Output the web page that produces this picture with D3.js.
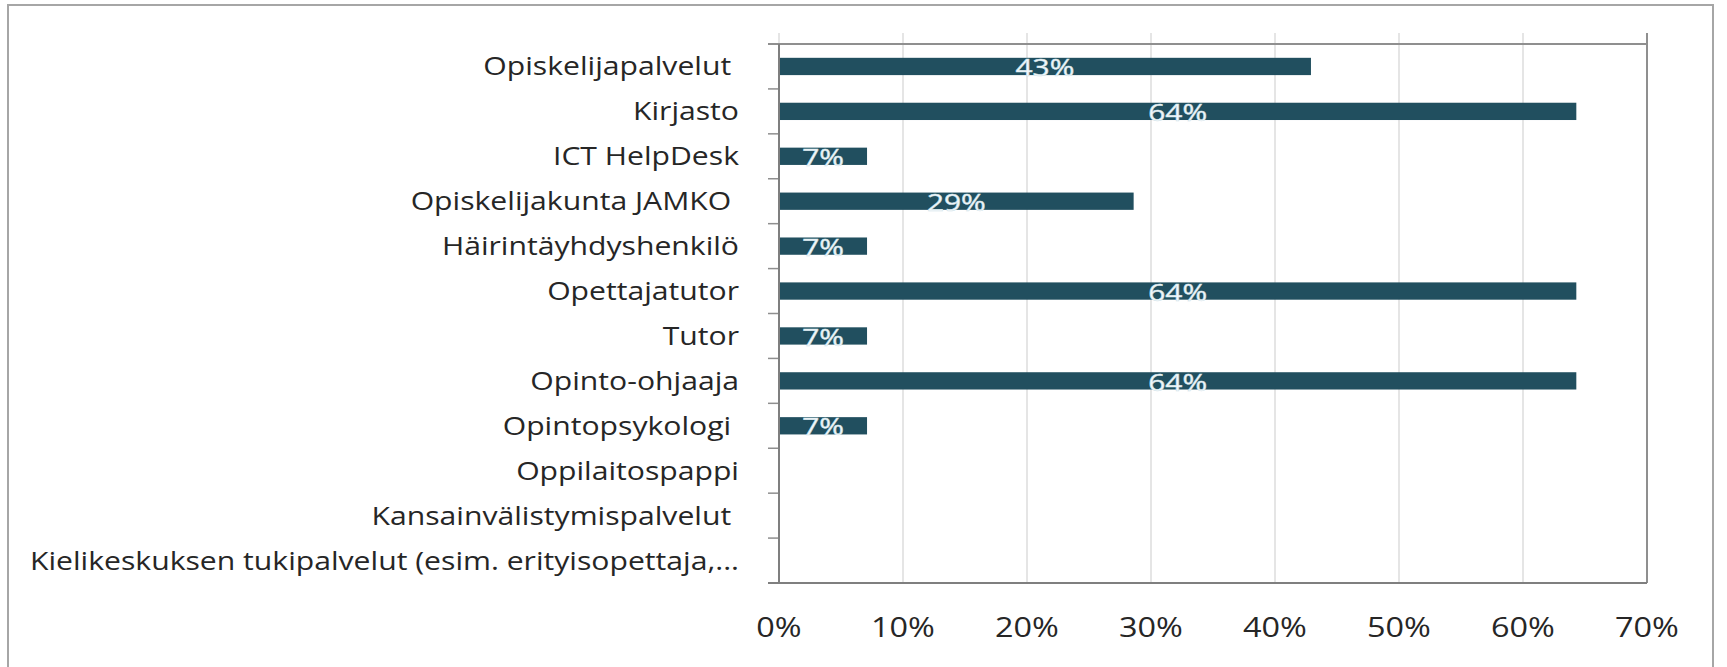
<!doctype html>
<html>
<head>
<meta charset="utf-8">
<script src="https://d3js.org/d3.v7.min.js"></script>
<style>
body { margin: 0; background: #fff; }
svg text { font-family: "Open Sans", sans-serif; white-space: pre; }
</style>
</head>
<body>
<svg width="1727" height="667" class="chart"></svg>
<script>
// data (share of respondents, %)
var categories = [
  "Opiskelijapalvelut ",
  "Kirjasto",
  "ICT HelpDesk",
  "Opiskelijakunta JAMKO ",
  "Häirintäyhdyshenkilö",
  "Opettajatutor",
  "Tutor",
  "Opinto-ohjaaja",
  "Opintopsykologi ",
  "Oppilaitospappi",
  "Kansainvälistymispalvelut ",
  "Kielikeskuksen tukipalvelut (esim. erityisopettaja,..."
];
var values = [42.9, 64.3, 7.1, 28.6, 7.1, 64.3, 7.1, 64.3, 7.1, 0, 0, 0];
var xTicks = [0, 10, 20, 30, 40, 50, 60, 70];

var svg = d3.select(".chart"),
    marginLeft = 779, marginTop = 44,
    width = 868, height = 539;

// the source picture is a bit stretched sideways, so text gets a scaleX
function stretched(sel, px, py, s) {
  return sel.attr("transform", function(d, i) {
    return "translate(" + px(d, i) + "," + py(d, i) + ") scale(" + s + ",1)";
  });
}

// outer frame
svg.append("rect")
  .attr("x", 8).attr("y", 5)
  .attr("width", 1705).attr("height", 720)
  .style("fill", "none").style("stroke", "#a6a6a6").style("stroke-width", 2);

var x = d3.scaleLinear().domain([0, 70]).range([0, width]);
var y = d3.scaleBand().domain(categories).range([0, height])
  .paddingInner(0.615).paddingOuter(0.3075);

var g = svg.append("g").attr("transform", "translate(" + marginLeft + "," + marginTop + ")");

// gridlines, poking a little above the plot
g.append("g").selectAll("line")
  .data(xTicks)
  .enter().append("line")
  .attr("x1", function(d) { return x(d); })
  .attr("x2", function(d) { return x(d); })
  .attr("y1", -11).attr("y2", height)
  .style("stroke", "#d4d4d4").style("stroke-width", 1.2);

// plot frame top / right
g.append("line").attr("x1", -11).attr("x2", width).attr("y1", 0).attr("y2", 0)
  .style("stroke", "#8f8f8f").style("stroke-width", 2);
g.append("line").attr("x1", width).attr("x2", width).attr("y1", -11).attr("y2", height)
  .style("stroke", "#8f8f8f").style("stroke-width", 2);

// bars
g.append("g").selectAll("rect")
  .data(values)
  .enter().append("rect")
  .attr("x", 0)
  .attr("y", function(d, i) { return y(categories[i]); })
  .attr("width", function(d) { return x(d); })
  .attr("height", y.bandwidth())
  .style("fill", "#214f5f");

// value labels in the middle of each bar (they sit low, as in the source)
var shown = values.map(function(d, i) { return [d, i]; })
  .filter(function(p) { return p[0] > 0; });
stretched(g.append("g").selectAll("text")
  .data(shown)
  .enter().append("text"),
  function(p) { return x(p[0]) / 2; },
  function(p) { return y(categories[p[1]]) + y.bandwidth() + 1; }, 1.3)
  .attr("text-anchor", "middle")
  .style("font-size", "23px")
  .style("fill", "#f4f8fa")
  .style("stroke", "#cfe3ea").style("stroke-width", 0.5)
  .text(function(p) { return Math.round(p[0]) + "%"; });

// left axis: category boundary ticks
var slot = height / categories.length;
g.append("g").selectAll("line")
  .data(d3.range(categories.length + 1))
  .enter().append("line")
  .attr("x1", -11).attr("x2", 0)
  .attr("y1", function(i) { return i * slot; })
  .attr("y2", function(i) { return i * slot; })
  .style("stroke", "#8f8f8f").style("stroke-width", 1.5);

g.append("line").attr("x1", 0).attr("x2", 0).attr("y1", 0).attr("y2", height)
  .style("stroke", "#7f7f7f").style("stroke-width", 2);
g.append("line").attr("x1", -11).attr("x2", width).attr("y1", height).attr("y2", height)
  .style("stroke", "#7f7f7f").style("stroke-width", 2);

// category labels
stretched(g.append("g").selectAll("text")
  .data(categories)
  .enter().append("text"),
  function() { return -40; },
  function(d) { return y(d) + y.bandwidth() / 2 + 9; }, 1.16)
  .attr("text-anchor", "end")
  .style("font-size", "26px")
  .style("fill", "#262626")
  .text(function(d) { return d; });

// value tick labels
stretched(g.append("g").selectAll("text")
  .data(xTicks)
  .enter().append("text"),
  function(d) { return x(d); },
  function() { return height + 54; }, 1.2)
  .attr("text-anchor", "middle")
  .style("font-size", "27px")
  .style("fill", "#262626")
  .text(function(d) { return d + "%"; });
</script>
</body>
</html>
